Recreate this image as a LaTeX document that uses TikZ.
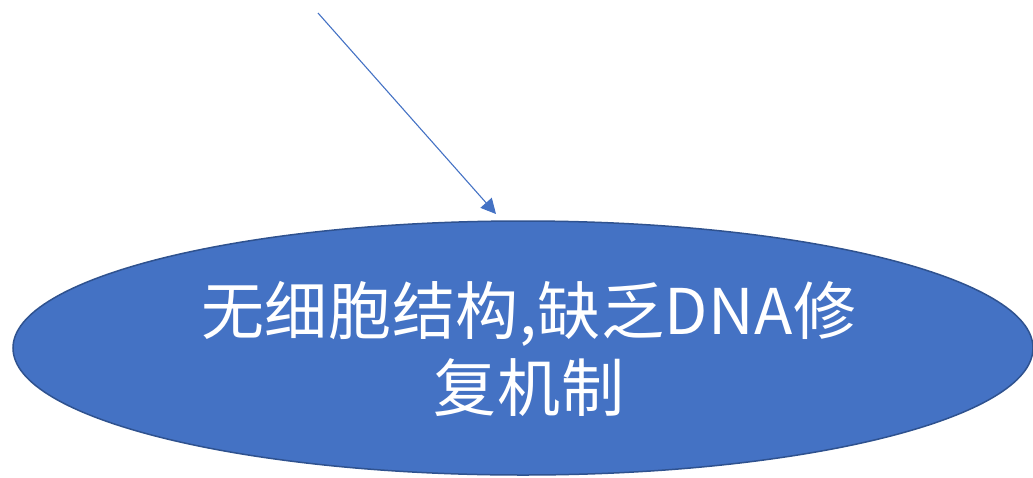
\documentclass[tikz,border=0pt]{standalone}
\usepackage{fontspec}
\setmainfont{Noto Sans CJK SC}
\usetikzlibrary{shapes.geometric,arrows.meta}
\definecolor{fillblue}{HTML}{4472C4}
\definecolor{edgeblue}{HTML}{2F528F}
\tikzset{
  bubble/.style={ellipse, fill=fillblue, draw=edgeblue, line width=1.5pt,
    minimum width=1020pt, minimum height=254pt, inner sep=0pt},
  bubbletext/.style={inner sep=0pt, text=white, align=center,
    font=\fontsize{63}{77}\selectfont\addfontfeature{LetterSpace=1}},
  link/.style={draw=fillblue, line width=1.1pt, -{Triangle[length=15pt,width=15pt]}}
}
\begin{document}
\begin{tikzpicture}[x=1pt,y=-1pt]
\useasboundingbox (0,0) rectangle (1033,477);
\node[bubble] (e) at (523,348) {};
\node[bubbletext] (lbl) at ([xshift=6pt,yshift=-1pt]e.center) {无细胞结构,缺乏DNA修\\复机制};
\coordinate (s) at (318,13);
\coordinate (t) at (496,214);
\draw[link] (s) -- (t);
\end{tikzpicture}
\end{document}
